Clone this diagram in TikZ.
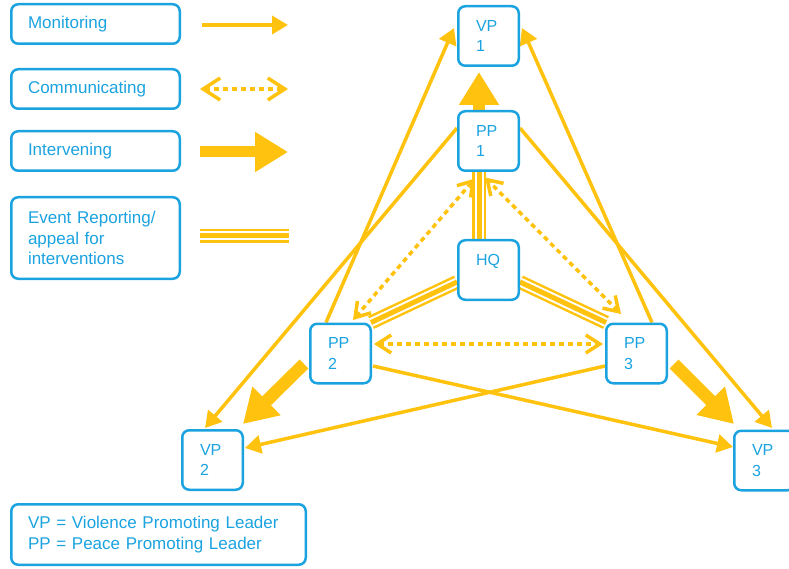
\documentclass[tikz,border=0pt]{standalone}
\usepackage{fontspec}
\setmainfont{Liberation Sans}
\usetikzlibrary{arrows.meta,calc}
\definecolor{boxblue}{HTML}{1BA3E0}
\definecolor{gold}{HTML}{FFC20E}
\pgfdeclarelayer{bg}
\pgfsetlayers{bg,main}
\tikzset{
  box/.style={draw=boxblue, line width=2.5pt, rounded corners=7pt, fill=white,
    text=boxblue, font=\fontsize{16}{20.5}\selectfont, align=left, inner ysep=0pt},
  leg/.style={box, font=\fontsize{17}{20.5}\selectfont, minimum height=39.5pt, text width=135pt, inner xsep=16.75pt},
  actor/.style={box, minimum height=59.5pt, text width=25pt, inner xsep=17.75pt},
  monitor/.style={draw=gold, line width=3.5pt, -{Triangle[length=16pt,width=18pt]}},
  commu/.style={draw=gold, line width=3.5pt, dash pattern=on 5pt off 4pt,
    {Straight Barb[length=14pt,width=18pt]}-{Straight Barb[length=14pt,width=18pt]}},
  commulegend/.style={commu,
    {Straight Barb[length=17pt,width=22pt]}-{Straight Barb[length=17pt,width=22pt]}},
  interv/.style={draw=gold, line width=12.5pt, -{Triangle[length=33pt,width=38pt]}},
  report/.style={draw=gold, line width=14pt,
    postaction={draw=white, line width=9pt},
    postaction={draw=gold, line width=5pt}},
}
\begin{document}
\begin{tikzpicture}[x=1pt, y=-1pt]
\useasboundingbox (0,0) rectangle (789,569);
\clip (0,0) rectangle (789,569);

% legend boxes
\node[leg] (lmon) at (95.5,24) {Monitoring};
\node[leg] (lcom) at (95.5,89) {Communicating};
\node[leg] (lint) at (95.5,151) {Intervening};
\node[leg, minimum height=81.5pt] (lrep) at (95.5,238) {Event Reporting/\\appeal for\\interventions};
\node[leg, minimum height=60.5pt, text width=261pt] (lkey) at (158.5,534.5)
  {VP = Violence Promoting Leader\\PP = Peace Promoting Leader};

% actors
\node[actor] (VP1) at (488.5,36) {VP\\1};
\node[actor] (PP1) at (488.5,141) {PP\\1};
\node[actor] (HQ)  at (488.5,270) {HQ\\\mbox{}};
\node[actor] (PP2) at (340.5,353.5) {PP\\2};
\node[actor] (PP3) at (636.5,353.5) {PP\\3};
\node[actor] (VP2) at (212.5,460) {VP\\2};
\node[actor] (VP3) at (764.5,460.5) {VP\\3};

% legend key coordinates
\coordinate (m1) at (202,25);  \coordinate (m2) at (288,25);
\coordinate (c1) at (200,89);  \coordinate (c2) at (288,89);
\coordinate (i1) at (200,152); \coordinate (i2) at (288,152);
\coordinate (r1) at (200,236); \coordinate (r2) at (289,236);

\begin{pgfonlayer}{bg}
  % legend samples
  \draw[monitor] (m1) -- (m2);
  \draw[commulegend] (c1) -- (c2);
  \draw[interv, line width=11pt] (i1) -- (i2);
  \draw[report] (r1) -- (r2);

  % event reporting
  \draw[report] ($(HQ.north)+(-9.5,0)$) -- ($(PP1.south)+(-9.5,0)$);
  \draw[report] ($(HQ.west)+(0,12)$) -- ($(PP2.north east)+(-1,0)$);
  \draw[report] ($(HQ.east)+(0,12)$) -- ($(PP3.north west)+(1,0)$);

  % communicating
  \draw[commu] ($(PP2.north east)+(-19,-2.5)$) -- ($(PP1.south)+(-13.5,6.5)$);
  \draw[commu] ($(PP3.north west)+(16,-8.5)$) -- ($(PP1.south)+(-3.5,5.5)$);
  \draw[commu] ($(PP2.east)+(2,-9.5)$) -- ($(PP3.west)+(-2,-9.5)$);

  % monitoring
  \draw[monitor] ($(PP2.north)+(-14.5,0)$) -- ($(VP1.west)+(-3,-8)$);
  \draw[monitor] ($(PP3.north)+(15.5,0)$) -- ($(VP1.east)+(2,-8)$);
  \draw[monitor] ($(PP1.west)+(0,-13)$) -- ($(VP2.north)+(-7.5,-1)$);
  \draw[monitor] ($(PP1.east)+(0,-13)$) -- ($(VP3.north)+(7.5,-1.5)$);
  \draw[monitor] ($(PP2.east)+(1,12.5)$) -- ($(VP3.west)+(0,-13.5)$);
  \draw[monitor] ($(PP3.west)+(0,12.5)$) -- ($(VP2.east)+(1,-12)$);

  % intervening
  \draw[interv] ($(PP1.north)+(-9.5,0)$) -- ($(VP1.south)+(-9.5,5)$);
  \draw[interv] ($(PP2.west)+(-5,10.5)$) -- ($(VP2.north east)+(-1,-5)$);
  \draw[interv] ($(PP3.east)+(6,10.5)$) -- ($(VP3.north west)+(1,-5.5)$);
\end{pgfonlayer}
\end{tikzpicture}
\end{document}
